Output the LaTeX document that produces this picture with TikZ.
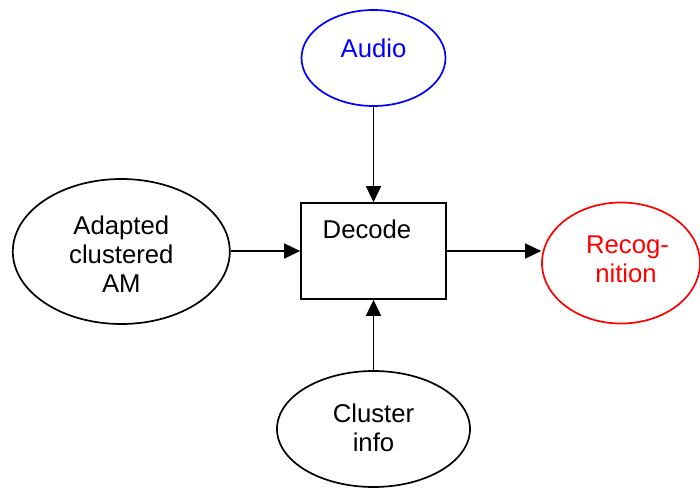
\documentclass[tikz,border=0pt]{standalone}
\usepackage{fontspec}
\setmainfont{Liberation Sans}
\usetikzlibrary{shapes.geometric,arrows.meta}
\definecolor{audioblue}{RGB}{0,0,255}
\definecolor{recred}{RGB}{255,0,0}
\tikzset{
  txt/.style={font=\fontsize{25.7}{29}\selectfont, align=center, inner sep=0pt},
  base/.style={draw, line width=1.7pt, inner sep=0pt},
  oval/.style={base, ellipse},
  stepbox/.style={base, rectangle, minimum width=145pt, minimum height=96pt},
  flow/.style={line width=1.7pt, -{Triangle[length=16pt,width=15pt]}}
}
\begin{document}
\begin{tikzpicture}[x=1pt,y=-1pt]
  \useasboundingbox (0,0) rectangle (700,489);
  \clip (0,0) rectangle (700,489);

  \node[oval, draw=audioblue, minimum width=144pt, minimum height=96pt,
        label={[txt, text=audioblue, yshift=10pt]center:Audio}]
        (audio) at (373.5,58) {};

  \node[stepbox, label={[txt, xshift=-6.5pt, yshift=22pt]center:Decode}]
        (dec) at (373.5,251) {};

  \node[oval, minimum width=217pt, minimum height=145pt,
        label={[txt, yshift=-2.5pt]center:{Adapted\\clustered\\AM}}]
        (am) at (121.3,251.5) {};

  \node[oval, draw=recred, minimum width=158pt, minimum height=121pt,
        label={[txt, text=recred, xshift=5pt, yshift=3.5pt]center:{\hspace*{3pt}Recog-\\nition}}]
        (rec) at (621,263) {};

  \node[oval, minimum width=193pt, minimum height=116pt,
        label={[txt, yshift=1.5pt]center:{Cluster\\info}}]
        (clu) at (373.5,429) {};

  \draw[flow] (audio.south) -- (dec.north);
  \draw[flow] (am.east |- dec.west) -- (dec.west);
  \draw[flow] (dec.east) -- (rec.west |- dec.east);
  \draw[flow] (clu.north) -- (dec.south);
\end{tikzpicture}
\end{document}
